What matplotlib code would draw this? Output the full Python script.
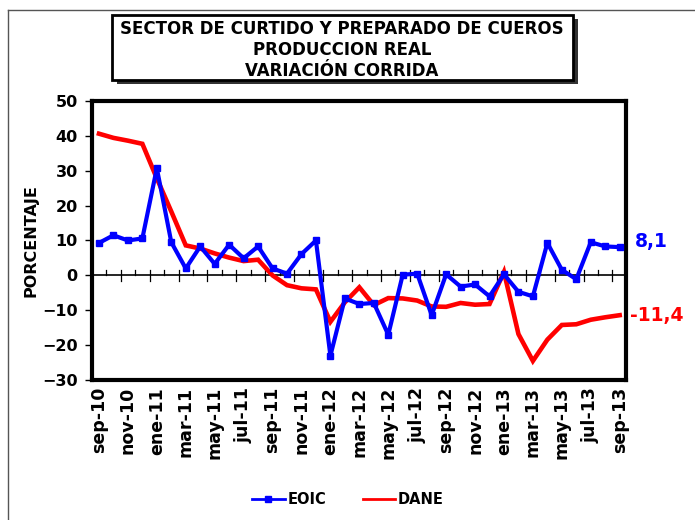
import numpy as np
import matplotlib.pyplot as plt
from matplotlib.patches import Rectangle
from matplotlib.lines import Line2D

# meses sep-10 .. sep-13
meses = ['sep-10', 'oct-10', 'nov-10', 'dic-10', 'ene-11', 'feb-11', 'mar-11', 'abr-11',
         'may-11', 'jun-11', 'jul-11', 'ago-11', 'sep-11', 'oct-11', 'nov-11', 'dic-11',
         'ene-12', 'feb-12', 'mar-12', 'abr-12', 'may-12', 'jun-12', 'jul-12', 'ago-12',
         'sep-12', 'oct-12', 'nov-12', 'dic-12', 'ene-13', 'feb-13', 'mar-13', 'abr-13',
         'may-13', 'jun-13', 'jul-13', 'ago-13', 'sep-13']

eoic = [9.3, 11.5, 10.0, 10.6, 30.7, 9.5, 2.0, 8.3, 3.3, 8.8, 4.9, 8.3, 2.0, 0.5, 6.1, 10.0,
        -23.0, -6.6, -8.2, -7.9, -17.0, 0.2, 0.5, -11.4, 0.3, -3.2, -2.6, -6.0, 0.3, -4.7,
        -6.0, 9.3, 1.6, -1.1, 9.5, 8.3, 8.1]

dane = [40.6, 39.4, 38.6, 37.7, 27.8, 18.3, 8.6, 7.7, 6.3, 5.1, 4.1, 4.5, 0.0, -2.8, -3.7,
        -4.0, -13.3, -7.7, -3.4, -8.5, -6.5, -6.6, -7.2, -8.9, -9.0, -7.9, -8.4, -8.2, 1.0,
        -16.8, -24.5, -18.4, -14.2, -14.0, -12.7, -12.0, -11.4]

x = np.arange(len(meses))

fig = plt.figure(figsize=(6.95, 5.2), dpi=100)
ax = fig.add_axes([0.132, 0.269, 0.769, 0.537])

ax.plot(x, dane, color='red', linewidth=3.3, solid_joinstyle='miter', zorder=3)
ax.plot(x, eoic, color='blue', linewidth=3, marker='s', markersize=4.5, zorder=4)

# linea del cero con marcas por mes
ax.axhline(0, color='black', linewidth=1.2, zorder=2)
for i in range(len(meses)):
    if i % 2 == 1:
        ax.plot([i + 0.5, i + 0.5], [-1.5, 1.5], color='black', linewidth=0.9, zorder=2)
    else:
        ax.plot([i + 0.5, i + 0.5], [0, 1.5], color='black', linewidth=0.9, zorder=2)

ax.set_xlim(-0.5, len(meses) - 0.55)
ax.set_ylim(-30, 50)
ax.set_yticks(range(-30, 51, 10))
ax.set_xticks(x[::2])
ax.set_xticklabels(meses[::2], rotation=90, fontsize=12.5, fontweight='bold')
ax.tick_params(axis='x', length=0, pad=5)
ax.tick_params(axis='y', length=5, width=1, labelsize=11.5, pad=5)
for lab in ax.get_yticklabels():
    lab.set_fontweight('bold')
for s in ax.spines.values():
    s.set_linewidth(3)
ax.set_ylabel('PORCENTAJE', fontsize=11.5, fontweight='bold', labelpad=3)

# valores finales
ax.annotate('8,1', xy=(1.0, eoic[-1]), xycoords=('axes fraction', 'data'),
            xytext=(6, 4), textcoords='offset points', color='blue',
            fontsize=13.5, fontweight='bold', va='center')
ax.annotate(f'{dane[-1]:.1f}'.replace('.', ','), xy=(1.0, dane[-1]),
            xycoords=('axes fraction', 'data'), xytext=(3, 0), textcoords='offset points',
            color='red', fontsize=13.5, fontweight='bold', va='center')

# cuadro del titulo con sombra
fig.patches.append(Rectangle((117 / 695, 1 - 84 / 520), 461 / 695, 65 / 520,
                             transform=fig.transFigure, facecolor='#333333',
                             edgecolor='none', zorder=0))
fig.patches.append(Rectangle((112 / 695, 1 - 80 / 520), 461 / 695, 65 / 520,
                             transform=fig.transFigure, facecolor='white',
                             edgecolor='black', linewidth=2, zorder=1))
fig.text(342 / 695, 1 - 50 / 520,
         'SECTOR DE CURTIDO Y PREPARADO DE CUEROS\nPRODUCCION REAL\nVARIACIÓN CORRIDA',
         ha='center', va='center', fontsize=12, fontweight='bold', linespacing=1.25)

# borde exterior
fig.add_artist(Line2D([8 / 695, 8 / 695], [0, 1 - 10 / 520], transform=fig.transFigure,
                      color='#555555', linewidth=1))
fig.add_artist(Line2D([8 / 695, 1], [1 - 10 / 520, 1 - 10 / 520], transform=fig.transFigure,
                      color='#555555', linewidth=1))

handles = [Line2D([], [], color='blue', linewidth=2, marker='s', markersize=4.5),
           Line2D([], [], color='red', linewidth=2)]
fig.legend(handles, ['EOIC', 'DANE'], loc='center', bbox_to_anchor=(348 / 695, 1 - 500 / 520),
           ncol=2, frameon=False, prop={'weight': 'bold', 'size': 10.5},
           handlelength=2.2, handletextpad=0.2, columnspacing=2.5)

fig.savefig('out.png', dpi=100)
